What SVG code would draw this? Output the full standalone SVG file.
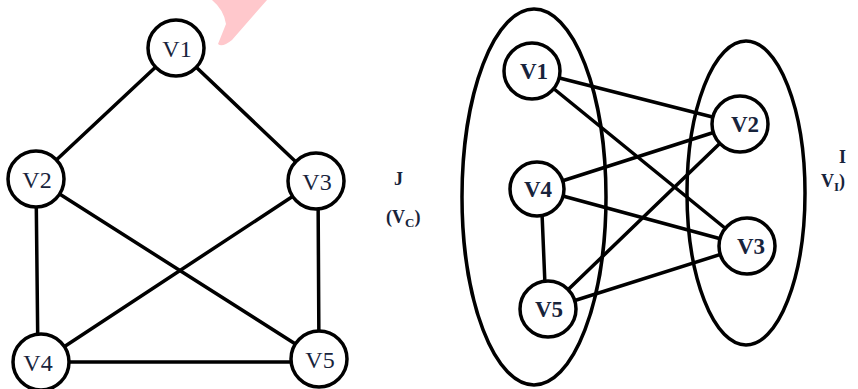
<svg xmlns="http://www.w3.org/2000/svg" width="858" height="389" viewBox="0 0 858 389">
  <style>
    .edge { stroke: #000; stroke-width: 3.5; fill: none; stroke-linecap: round; }
    .node circle { fill: #fff; stroke: #000; stroke-width: 3.5; }
    .set { fill: none; stroke: #000; stroke-width: 3.5; }
    .lbl { font-family: "Liberation Serif", "Times New Roman", serif; font-size: 24px; fill: #17233b; text-anchor: middle; }
    .lblb { font-family: "Liberation Serif", "Times New Roman", serif; font-size: 23px; font-weight: bold; fill: #17233b; text-anchor: middle; }
    .side { font-family: "Liberation Serif", "Times New Roman", serif; font-size: 18px; font-weight: bold; fill: #17233b; }
    .sub { font-size: 13px; }
  </style>
  <defs>
    <clipPath id="cutVc"><rect x="380" y="195" width="53" height="40"/></clipPath>
    <clipPath id="cutVi"><rect x="810" y="165" width="44" height="30"/></clipPath>
  </defs>
  <rect width="858" height="389" fill="#fff"/>

  <!-- faint pink mark -->
  <path d="M212,0 L267,0 L232,40 Q222,48 218,44 L226,24 Q224,10 212,0 Z" fill="#ffc8cc"/>

  <!-- left graph: connectors -->
  <g id="edges-left">
    <line class="edge" x1="176" y1="48" x2="36" y2="179"/>
    <line class="edge" x1="176" y1="48" x2="316" y2="181"/>
    <line class="edge" x1="36" y1="179" x2="38" y2="362"/>
    <line class="edge" x1="36" y1="179" x2="319" y2="359"/>
    <line class="edge" x1="316" y1="181" x2="41" y2="362"/>
    <line class="edge" x1="318" y1="181" x2="319" y2="359"/>
    <line class="edge" x1="41" y1="362" x2="319" y2="362"/>
  </g>

  <!-- left graph: vertices -->
  <g id="L-V1" class="node"><circle cx="176" cy="48" r="28"/><text class="lbl" x="177" y="57">V1</text></g>
  <g id="L-V2" class="node"><circle cx="36" cy="179" r="28"/><text class="lbl" x="37" y="188">V2</text></g>
  <g id="L-V3" class="node"><circle cx="316" cy="181" r="28"/><text class="lbl" x="317" y="190">V3</text></g>
  <g id="L-V4" class="node"><circle cx="41" cy="362" r="28"/><text class="lbl" x="38" y="371">V4</text></g>
  <g id="L-V5" class="node"><circle cx="319" cy="359" r="28"/><text class="lbl" x="320" y="368">V5</text></g>

  <!-- partition labels -->
  <text class="side" x="394" y="185" font-size="15">J</text>
  <text class="side" x="386" y="223" clip-path="url(#cutVc)">(V<tspan class="sub" dy="4">C</tspan><tspan dy="-4">)</tspan></text>
  <text class="side" x="839" y="163" font-size="15">I</text>
  <text class="side" x="821" y="187" clip-path="url(#cutVi)">V<tspan class="sub" dy="4">I</tspan><tspan dy="-4">)</tspan></text>

  <!-- partition sets -->
  <g id="set-C"><ellipse class="set" cx="534" cy="197" rx="72" ry="188"/></g>
  <g id="set-I"><ellipse class="set" cx="746" cy="193" rx="59" ry="152"/></g>

  <!-- right graph: connectors -->
  <g id="edges-right">
    <line class="edge" x1="532" y1="71" x2="740" y2="124"/>
    <line class="edge" x1="532" y1="71" x2="747" y2="246"/>
    <line class="edge" x1="537" y1="189" x2="740" y2="124"/>
    <line class="edge" x1="537" y1="189" x2="747" y2="246"/>
    <line class="edge" x1="541" y1="189" x2="546" y2="309"/>
    <line class="edge" x1="548" y1="309" x2="740" y2="124"/>
    <line class="edge" x1="548" y1="309" x2="747" y2="246"/>
  </g>

  <!-- right graph: vertices -->
  <g id="R-V1" class="node"><circle cx="532" cy="71" r="28"/><text class="lblb" x="534" y="79">V1</text></g>
  <g id="R-V2" class="node"><circle cx="740" cy="124" r="28"/><text class="lblb" x="745" y="132">V2</text></g>
  <g id="R-V4" class="node"><circle cx="537" cy="189" r="27"/><text class="lblb" x="538" y="197">V4</text></g>
  <g id="R-V5" class="node"><circle cx="548" cy="309" r="28"/><text class="lblb" x="549" y="317">V5</text></g>
  <g id="R-V3" class="node"><circle cx="747" cy="246" r="28"/><text class="lblb" x="751" y="254">V3</text></g>
</svg>
